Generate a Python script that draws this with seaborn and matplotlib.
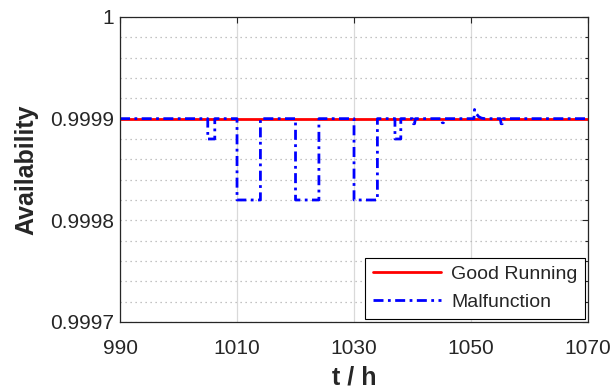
import matplotlib
matplotlib.use('Agg')
import matplotlib.pyplot as plt
import numpy as np
import pandas as pd
import seaborn as sns

########### DATA ##################################
good_t = [990, 1070]
good_a = [0.9999, 0.9999]

mal_t = [990, 1005, 1005, 1006.2, 1006.2,
         1010, 1010, 1014, 1014,
         1020, 1020, 1024, 1024,
         1030, 1030, 1034, 1034,
         1037, 1037, 1038, 1038,
         1040, 1040.15, 1040.35, 1040.5,
         1045, 1045.1, 1045.3, 1045.4,
         1050.5, 1050.6, 1050.9, 1051.3, 1051.8, 1052.4,
         1055, 1055.15, 1055.35, 1055.5, 1070]
mal_a = [0.9999, 0.9999, 0.99988, 0.99988, 0.9999,
         0.9999, 0.99982, 0.99982, 0.9999,
         0.9999, 0.99982, 0.99982, 0.9999,
         0.9999, 0.99982, 0.99982, 0.9999,
         0.9999, 0.99988, 0.99988, 0.9999,
         0.9999, 0.999895, 0.999895, 0.9999,
         0.9999, 0.999896, 0.999896, 0.9999,
         0.9999, 0.999909, 0.999905, 0.999902, 0.9999005, 0.9999,
         0.9999, 0.999895, 0.999895, 0.9999, 0.9999]

x_ticks = [990, 1010, 1030, 1050, 1070]
y_ticks = [0.9997, 0.9998, 0.9999, 1.0]
y_tick_labels = ['0.9997', '0.9998', '0.9999', '1']

############### PLOTTING ##################
sns.set_style('white')
plt.rcParams['font.family'] = ['Liberation Sans', 'DejaVu Sans']

fig = plt.figure(figsize=(6.13, 3.92), dpi=100)
ax = fig.add_axes([0.1958, 0.1786, 0.7634, 0.7781])

df_good = pd.DataFrame({'t': good_t, 'a': good_a})
df_mal = pd.DataFrame({'t': mal_t, 'a': mal_a})

sns.lineplot(data=df_good, x='t', y='a', color='#ff0000', linewidth=2,
             estimator=None, sort=False, ax=ax, label='Good Running')
sns.lineplot(data=df_mal, x='t', y='a', color='#0000ff', linewidth=2,
             linestyle=(0, (3.6, 1.6, 1, 1.6)),
             estimator=None, sort=False, ax=ax, label='Malfunction')

ax.set_xlim(990, 1070)
ax.set_ylim(0.9997, 1.0)
ax.set_xticks(x_ticks)
ax.set_yticks(y_ticks)
ax.set_yticklabels(y_tick_labels)
ax.set_yticks(np.arange(0.9997, 1.0, 0.00002), minor=True)
ax.set_xticks([], minor=True)

# grids: solid on x majors, dotted on y
ax.grid(False)
ax.xaxis.grid(True, which='major', color='#d9d9d9', linewidth=0.9, linestyle='-')
ax.yaxis.grid(True, which='minor', color='#b0b0b0', linewidth=0.9, linestyle=(0, (1, 3)))
ax.yaxis.grid(True, which='major', color='#b0b0b0', linewidth=0.9, linestyle=(0, (1, 3)))
ax.set_axisbelow(True)

ax.tick_params(which='both', direction='in', top=True, right=True,
               labelsize=15, colors='#262626', length=4, width=0.8)
ax.tick_params(axis='x', pad=12)
ax.tick_params(axis='y', pad=4)
ax.tick_params(which='minor', length=2.5)
for s in ax.spines.values():
    s.set_color('#262626')
    s.set_linewidth(0.9)

ax.set_xlabel('t / h', fontsize=18, fontweight='bold', labelpad=6)
ax.set_ylabel('Availability', fontsize=18, fontweight='bold', labelpad=9)

leg = ax.legend(loc='lower right', fontsize=14, frameon=True, fancybox=False,
                edgecolor='black', framealpha=1, handlelength=3.5,
                borderaxespad=0.15, borderpad=0.4, labelspacing=0.55,
                handletextpad=0.5)
leg.get_frame().set_linewidth(0.8)

plt.savefig('out.png', dpi=100)
